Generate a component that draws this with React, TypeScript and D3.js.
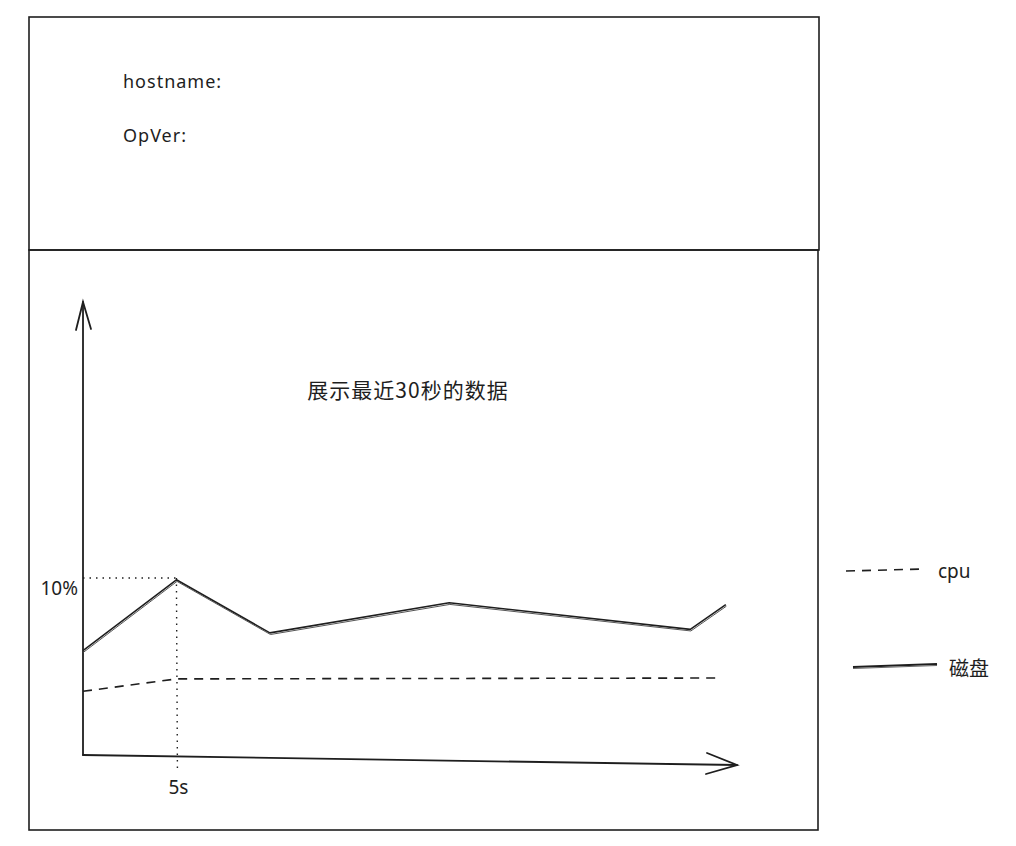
import React, { useEffect, useRef } from 'react';
import * as d3 from 'd3';

// info panel labels
const infoLabels = ['hostname:', 'OpVer:'];
const chartTitle = '展示最近30秒的数据';

// time in seconds, values in percent
const diskTimes = [0, 5, 10, 19.6, 32.5, 34.4];
const diskValues = [5.9, 9.9, 6.9, 8.6, 7.1, 8.5];
const cpuTimes = [0, 5, 34];
const cpuValues = [3.6, 4.3, 4.35];

const markTime = 5;
const markValue = 10;
const markTimeLabel = '5s';
const markValueLabel = '10%';

const legendNames = ['cpu', '磁盘'];

const INK = '#1e1e1e';
const HAND = '"Comic Sans MS", "Noto Sans", "Noto Sans CJK SC", sans-serif';
const CJK = '"Noto Sans CJK SC", sans-serif';

const App = () => {
    const svgRef = useRef<SVGSVGElement>(null);

    useEffect(() => {
        const svg = d3.select(svgRef.current);
        svg.selectAll('*').remove();

        // boxes
        const box = (x0, y0, x1, y1) => {
            svg.append('rect')
                .attr('x', x0).attr('y', y0)
                .attr('width', x1 - x0).attr('height', y1 - y0)
                .attr('fill', 'none')
                .attr('stroke', INK)
                .attr('stroke-width', 1.6);
        };
        box(29, 17, 819, 250);
        box(29, 250, 818, 830);

        // info labels
        infoLabels.forEach((t, i) => {
            svg.append('text')
                .attr('x', 123)
                .attr('y', 88 + i * 54)
                .attr('font-family', HAND)
                .attr('font-size', 18)
                .attr('letter-spacing', 1)
                .attr('fill', INK)
                .text(t);
        });

        // scales
        const x = d3.scaleLinear().domain([0, 35]).range([83, 737]);
        const y = d3.scaleLinear().domain([0, 25.6]).range([755, 302]);

        // title
        svg.append('text')
            .attr('x', 408)
            .attr('y', 398)
            .attr('text-anchor', 'middle')
            .attr('font-family', CJK)
            .attr('font-size', 21)
            .attr('letter-spacing', 1)
            .attr('fill', INK)
            .text(chartTitle);

        // axes (hand-drawn arrows)
        const axis = svg.append('g')
            .attr('stroke', INK)
            .attr('stroke-width', 1.8)
            .attr('fill', 'none')
            .attr('stroke-linecap', 'round');
        axis.append('path').attr('d', `M${x(0)},${y(0)} L${x(0)},${y(25.6)}`);
        axis.append('path').attr('d', `M${x(0) - 7},${y(25.6) + 28} L${x(0)},${y(25.6)} L${x(0) + 8},${y(25.6) + 27}`);
        axis.append('path').attr('d', `M${x(0)},${y(0)} L${x(35)},${y(0) + 10}`);
        axis.append('path').attr('d', `M${x(35) - 30},${y(0) - 2} L${x(35)},${y(0) + 10} L${x(35) - 31},${y(0) + 19}`);

        // marker guides
        svg.append('path')
            .attr('d', `M${x(0)},${y(markValue)} L${x(markTime)},${y(markValue)}`)
            .attr('stroke', INK).attr('stroke-width', 1.4)
            .attr('stroke-dasharray', '1.5 5').attr('fill', 'none');
        svg.append('path')
            .attr('d', `M${x(markTime)},${y(markValue)} L${x(markTime) + 1},${y(0) + 15}`)
            .attr('stroke', INK).attr('stroke-width', 1.4)
            .attr('stroke-dasharray', '1.5 5').attr('fill', 'none');

        svg.append('text')
            .attr('x', x(0) - 5)
            .attr('y', y(markValue) + 17)
            .attr('text-anchor', 'end')
            .attr('font-family', HAND)
            .attr('font-size', 19)
            .attr('fill', INK)
            .text(markValueLabel);
        svg.append('text')
            .attr('x', x(markTime) + 2)
            .attr('y', y(0) + 39)
            .attr('text-anchor', 'middle')
            .attr('font-family', HAND)
            .attr('font-size', 19)
            .attr('fill', INK)
            .text(markTimeLabel);

        // series
        const line = d3.line<[number, number]>()
            .x(d => x(d[0]))
            .y(d => y(d[1]));

        const diskData = diskTimes.map((t, i) => [t, diskValues[i]] as [number, number]);
        const cpuData = cpuTimes.map((t, i) => [t, cpuValues[i]] as [number, number]);

        // disk: sketchy double stroke
        svg.append('path')
            .datum(diskData)
            .attr('d', line)
            .attr('fill', 'none')
            .attr('stroke', INK)
            .attr('stroke-width', 1.6)
            .attr('stroke-linejoin', 'round');
        svg.append('path')
            .datum(diskData)
            .attr('d', line)
            .attr('transform', 'translate(0.6,1.6)')
            .attr('fill', 'none')
            .attr('stroke', '#555')
            .attr('stroke-width', 1)
            .attr('stroke-linejoin', 'round');

        // cpu dashed
        svg.append('path')
            .datum(cpuData)
            .attr('d', line)
            .attr('fill', 'none')
            .attr('stroke', INK)
            .attr('stroke-width', 1.6)
            .attr('stroke-dasharray', '9 7');

        // legend
        svg.append('path')
            .attr('d', 'M846,571 L924,569')
            .attr('stroke', INK).attr('stroke-width', 1.6)
            .attr('stroke-dasharray', '9 7').attr('fill', 'none');
        svg.append('text')
            .attr('x', 938).attr('y', 578)
            .attr('font-family', HAND)
            .attr('font-size', 19)
            .attr('fill', INK)
            .text(legendNames[0]);

        svg.append('path')
            .attr('d', 'M853,667 L937,664')
            .attr('stroke', INK).attr('stroke-width', 2.2).attr('fill', 'none');
        svg.append('path')
            .attr('d', 'M853,668.5 L937,665.5')
            .attr('stroke', '#666').attr('stroke-width', 1).attr('fill', 'none');
        svg.append('text')
            .attr('x', 949).attr('y', 676)
            .attr('font-family', CJK)
            .attr('font-size', 20)
            .attr('fill', INK)
            .text(legendNames[1]);
    }, []);

    return (
        <svg
            ref={svgRef}
            width={1016}
            height={846}
            style={{ position: 'absolute', left: 0, top: 0, background: '#fff' }}
        />
    );
};

export default App;
